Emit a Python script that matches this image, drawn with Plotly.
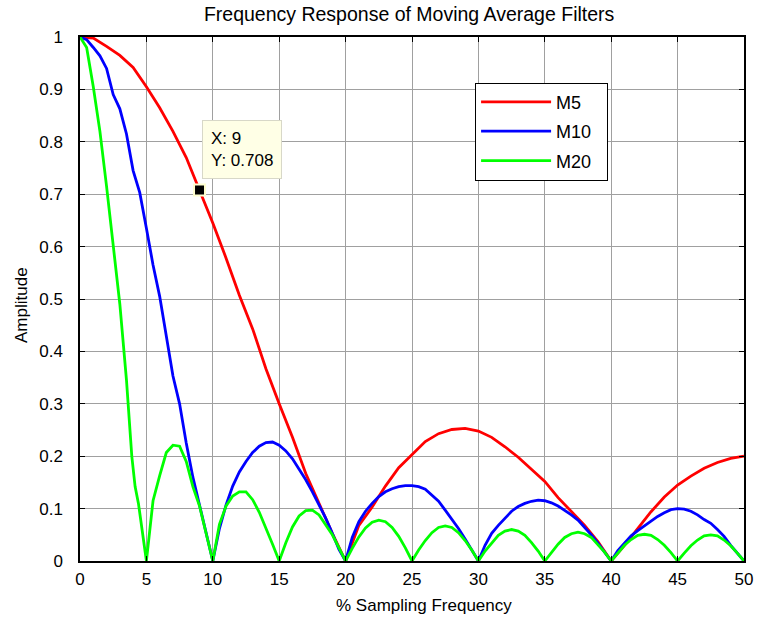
import plotly.graph_objects as go

# ---- data ----
m5_x = list(range(0, 51))
m5_y = [1.0, 0.998, 0.982, 0.965, 0.942, 0.905, 0.865, 0.82, 0.77, 0.708,
        0.645, 0.578, 0.507, 0.443, 0.367, 0.30, 0.236, 0.167, 0.11, 0.053,
        0.0, 0.068, 0.103, 0.143, 0.178, 0.203, 0.228, 0.243, 0.251, 0.253,
        0.248, 0.236, 0.218, 0.198, 0.175, 0.152, 0.121, 0.095, 0.068, 0.037,
        0.0, 0.03, 0.062, 0.094, 0.122, 0.145, 0.162, 0.177, 0.188, 0.196, 0.2]

m10_x = [i * 0.5 for i in range(0, 101)]
m10_y = [1.0, 0.995, 0.98, 0.964, 0.94, 0.89, 0.863, 0.815, 0.745, 0.703,
         0.635, 0.565, 0.505, 0.425, 0.353, 0.30, 0.225, 0.16, 0.105, 0.052,
         0.0, 0.062, 0.107, 0.143, 0.17, 0.19, 0.207, 0.219, 0.226, 0.227,
         0.221, 0.21, 0.195, 0.175, 0.155, 0.132, 0.108, 0.082, 0.053, 0.022,
         0.0, 0.045, 0.075, 0.095, 0.11, 0.123, 0.132, 0.138, 0.142, 0.144,
         0.144, 0.142, 0.137, 0.126, 0.114, 0.097, 0.08, 0.062, 0.042, 0.022,
         0.0, 0.03, 0.053, 0.068, 0.082, 0.095, 0.104, 0.11, 0.114, 0.116,
         0.115, 0.111, 0.105, 0.097, 0.088, 0.078, 0.065, 0.05, 0.034, 0.017,
         0.0, 0.02, 0.035, 0.048, 0.058, 0.067, 0.077, 0.085, 0.092, 0.098,
         0.1, 0.099, 0.095, 0.088, 0.079, 0.072, 0.06, 0.047, 0.03, 0.015, 0.0]

m20_x = [0, 0.5, 1, 1.5, 2, 2.5, 3, 3.5, 3.9, 4.15, 4.4, 5,
         5.5, 6, 6.5, 7, 7.5, 8, 8.5, 9, 9.5, 10,
         10.5, 11, 11.5, 12, 12.5, 13, 13.5, 14, 14.5, 15,
         15.5, 16, 16.5, 17, 17.5, 18, 18.5, 19, 19.5, 20,
         20.5, 21, 21.5, 22, 22.5, 23, 23.5, 24, 24.5, 25,
         25.5, 26, 26.5, 27, 27.5, 28, 28.5, 29, 29.5, 30,
         30.5, 31, 31.5, 32, 32.5, 33, 33.5, 34, 34.5, 35,
         35.5, 36, 36.5, 37, 37.5, 38, 38.5, 39, 39.5, 40,
         40.5, 41, 41.5, 42, 42.5, 43, 43.5, 44, 44.5, 45,
         45.5, 46, 46.5, 47, 47.5, 48, 48.5, 49, 49.5, 50]
m20_y = [1.0, 0.98, 0.905, 0.82, 0.715, 0.605, 0.49, 0.345, 0.2, 0.142, 0.11, 0.0,
         0.115, 0.163, 0.207, 0.221, 0.219, 0.19, 0.142, 0.105, 0.055, 0.0,
         0.07, 0.105, 0.124, 0.132, 0.132, 0.117, 0.093, 0.064, 0.032, 0.0,
         0.035, 0.065, 0.086, 0.096, 0.097, 0.088, 0.07, 0.05, 0.025, 0.0,
         0.024, 0.046, 0.063, 0.074, 0.078, 0.075, 0.064, 0.047, 0.025, 0.0,
         0.021, 0.039, 0.054, 0.064, 0.067, 0.064, 0.054, 0.039, 0.021, 0.0,
         0.019, 0.035, 0.049, 0.057, 0.06, 0.057, 0.049, 0.035, 0.019, 0.0,
         0.017, 0.032, 0.045, 0.052, 0.055, 0.052, 0.045, 0.032, 0.017, 0.0,
         0.016, 0.03, 0.041, 0.049, 0.051, 0.049, 0.041, 0.03, 0.016, 0.0,
         0.015, 0.029, 0.04, 0.048, 0.05, 0.048, 0.04, 0.029, 0.015, 0.0]

series_names = ["M5", "M10", "M20"]
series_colors = ["#ff0000", "#0000ff", "#00ff00"]

tip_x = 9
tip_y = 0.708

x_ticks = list(range(0, 51, 5))
y_ticks = [0, 0.1, 0.2, 0.3, 0.4, 0.5, 0.6, 0.7, 0.8, 0.9, 1]
y_tick_labels = ["0", "0.1", "0.2", "0.3", "0.4", "0.5", "0.6", "0.7", "0.8", "0.9", "1"]

FONT = "Liberation Sans, Arial, sans-serif"

fig = go.Figure()
for xs, ys, name, col in zip([m5_x, m10_x, m20_x], [m5_y, m10_y, m20_y],
                             series_names, series_colors):
    fig.add_trace(go.Scatter(x=xs, y=ys, mode="lines",
                             name=name + "&nbsp;&nbsp;",
                             legendgroup=name,
                             line=dict(color=col, width=2.8)))

fig.add_trace(go.Scatter(x=[tip_x], y=[tip_y], mode="markers", showlegend=False,
                         marker=dict(symbol="square", size=11, color="black",
                                     line=dict(color="#ffffd0", width=2)),
                         hoverinfo="skip"))

fig.add_annotation(x=tip_x + 0.15, y=0.842, xref="x", yref="y",
                   xanchor="left", yanchor="top", align="left",
                   text=f"X: {tip_x}<br>Y: {tip_y}", showarrow=False,
                   font=dict(family=FONT, size=17, color="black"),
                   bgcolor="#ffffe6", bordercolor="#d8d8c8", borderwidth=1,
                   borderpad=8)

# axis titles (placed like the original's)
fig.add_annotation(x=0.518, y=-0.084, xref="paper", yref="paper",
                   xanchor="center", yanchor="middle", showarrow=False,
                   text="% Sampling Frequency",
                   font=dict(family=FONT, size=17, color="black"))
fig.add_annotation(x=-0.087, y=0.489, xref="paper", yref="paper",
                   xanchor="center", yanchor="middle", showarrow=False,
                   text="Amplitude", textangle=-90,
                   font=dict(family=FONT, size=17, color="black"))

axis_common = dict(showline=True, linecolor="black", linewidth=1.5, mirror="ticks",
                   ticks="inside", ticklen=5, tickcolor="black",
                   showgrid=True, gridcolor="#a0a0a0", gridwidth=1,
                   zeroline=False, automargin=False,
                   tickfont=dict(family=FONT, size=17, color="black"))

fig.update_xaxes(range=[0, 50], tickvals=x_ticks, ticklabelstandoff=2,
                 **axis_common)
fig.update_yaxes(range=[0, 1], tickvals=y_ticks, ticktext=y_tick_labels,
                 ticklabelstandoff=12, **axis_common)

fig.update_layout(
    width=759, height=621,
    margin=dict(l=80, r=15, t=37, b=60),
    paper_bgcolor="white", plot_bgcolor="white",
    title=dict(text="Frequency Response of Moving Average Filters",
               x=0.539, xanchor="center", y=0.977, yanchor="middle",
               font=dict(family=FONT, size=19.5, color="black")),
    legend=dict(x=0.595, y=0.913, xanchor="left", yanchor="top",
                bgcolor="white", bordercolor="black", borderwidth=1,
                font=dict(family=FONT, size=18, color="black"),
                tracegroupgap=3, itemwidth=70),
    showlegend=True,
)

fig.write_html("out.html")
